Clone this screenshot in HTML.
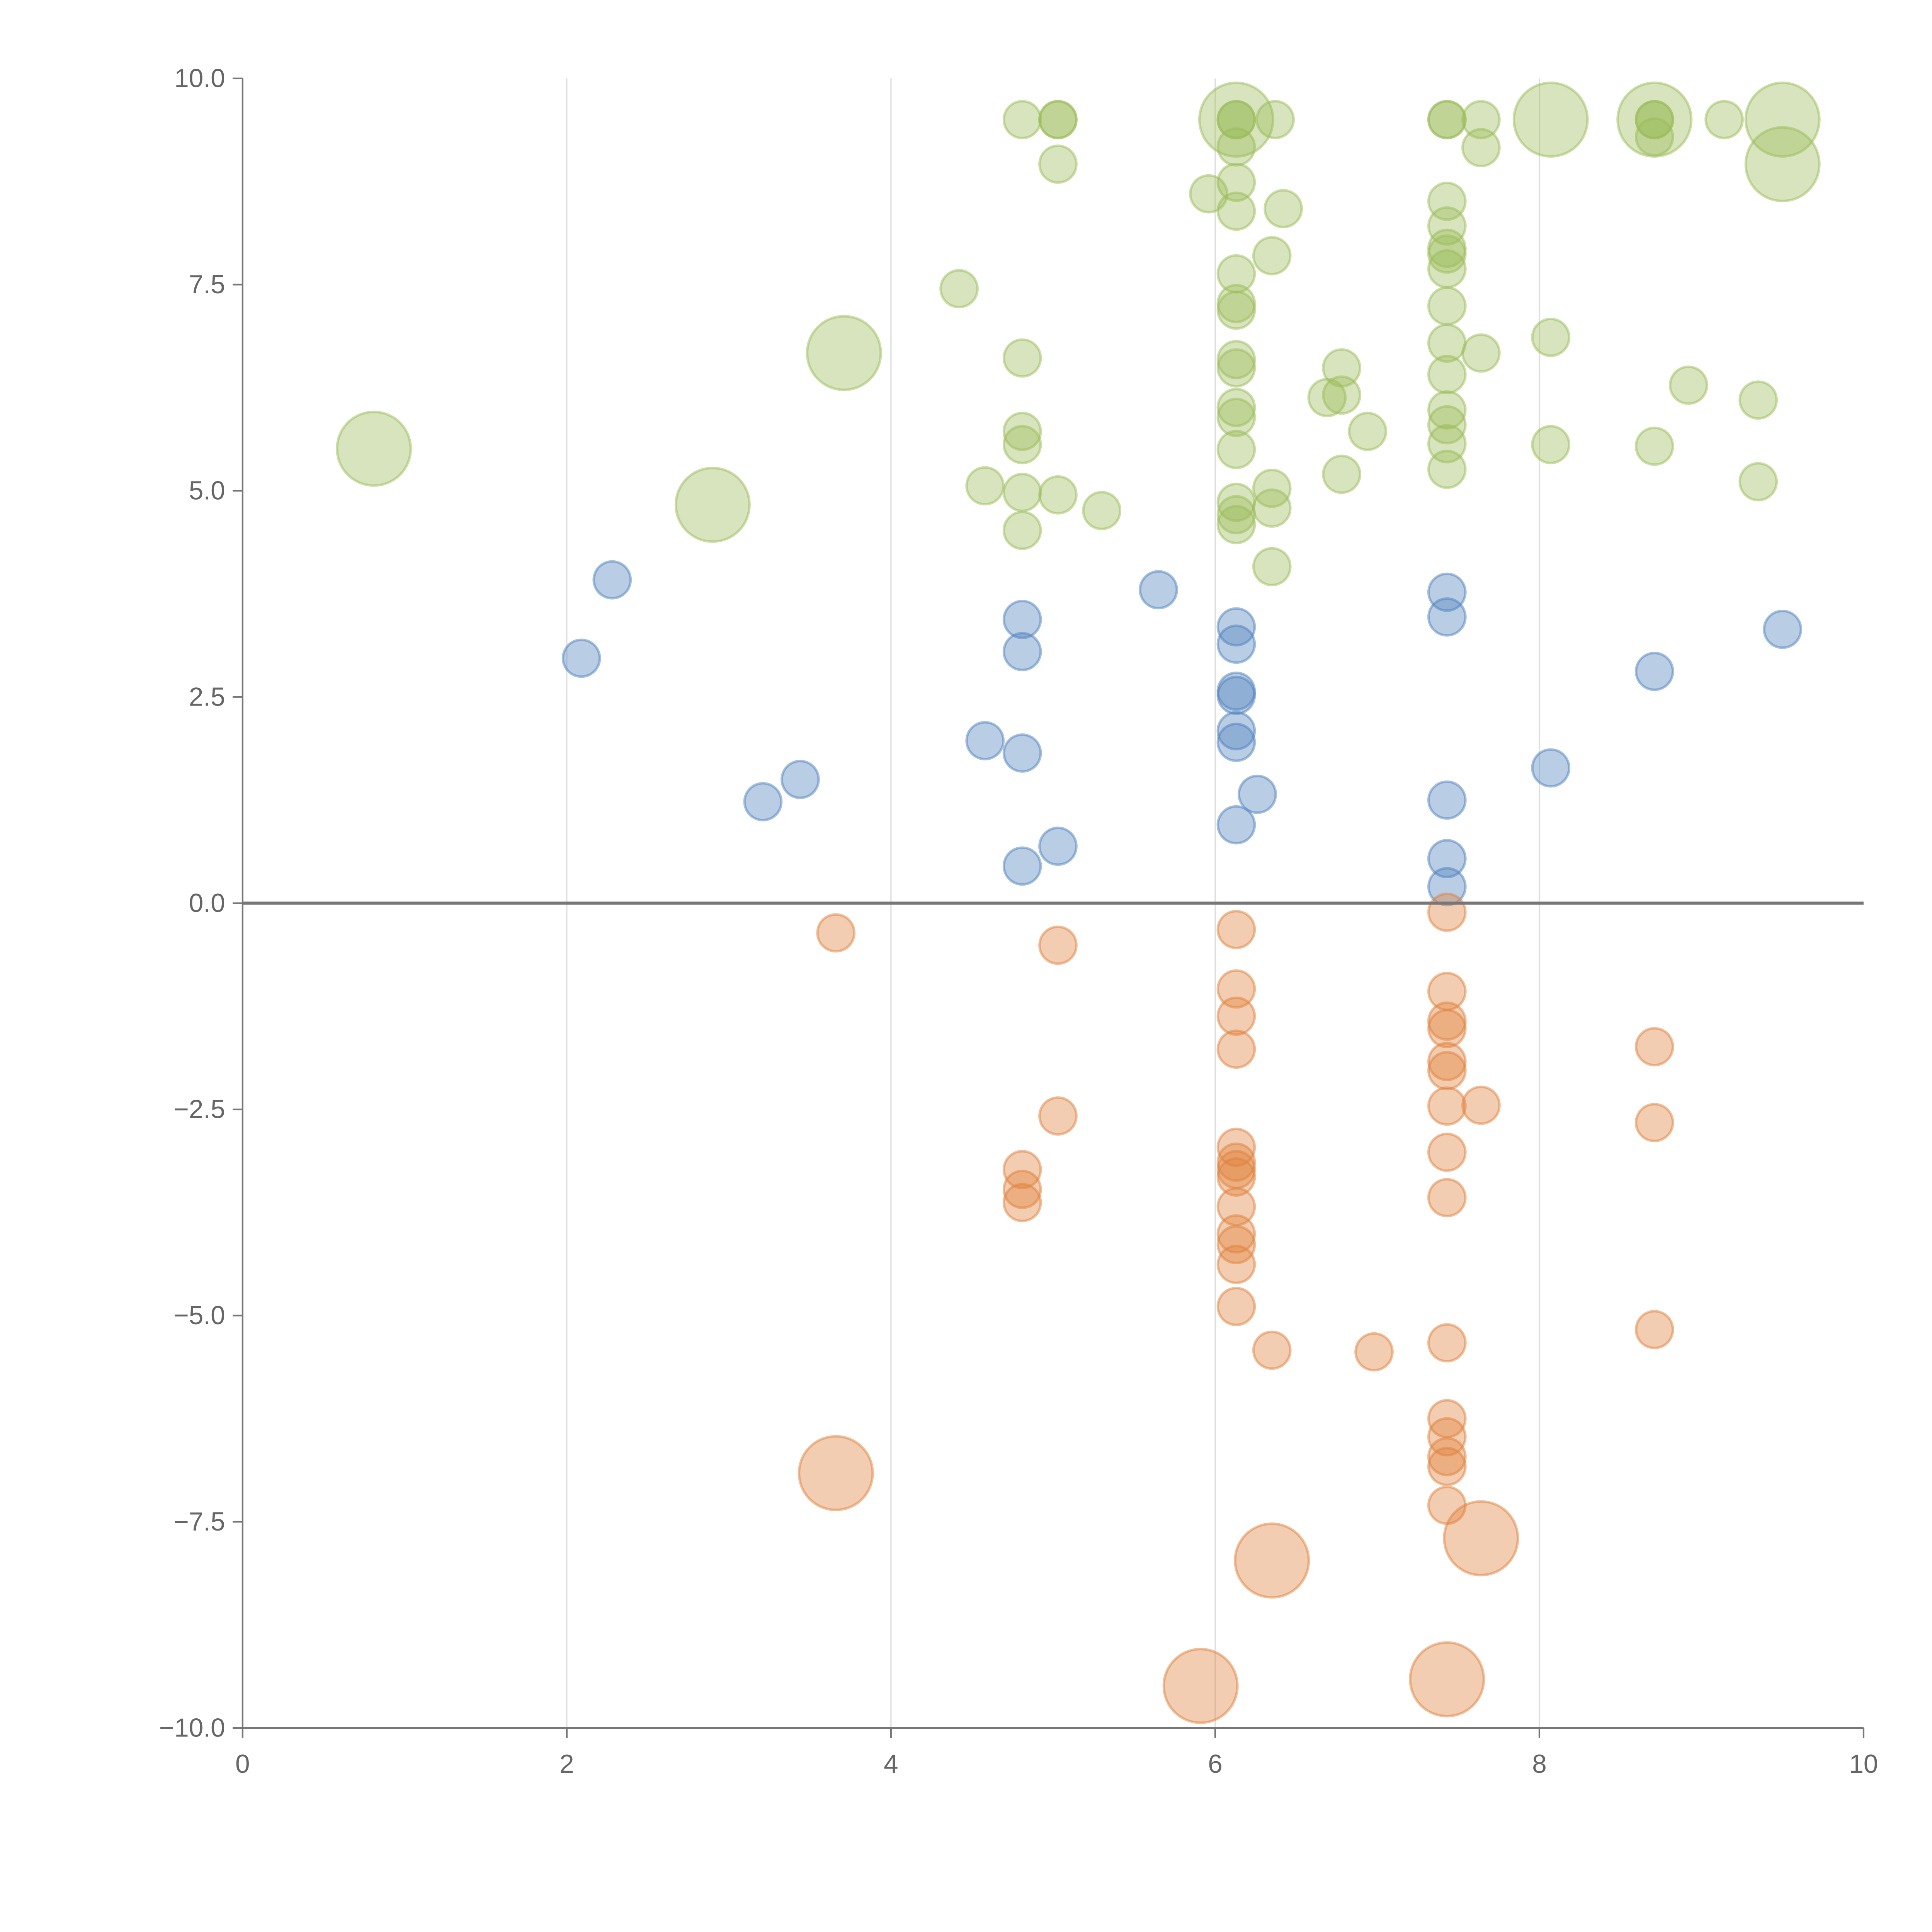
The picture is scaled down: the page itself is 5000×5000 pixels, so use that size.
<!DOCTYPE html>
<html><head><meta charset="utf-8"><style>html,body{margin:0;padding:0;background:#fff}svg{display:block}</style></head>
<body>
<svg id="chart" width="5000" height="5000" viewBox="0 0 1553 1553" xmlns="http://www.w3.org/2000/svg" font-family="Liberation Sans, sans-serif">
<g id="grid"></g>
<g id="marks"></g>
<g id="axes"></g>
</svg>
<script>
const xTicks = [0, 2, 4, 6, 8, 10];
const yTicks = [10, 7.5, 5, 2.5, 0, -2.5, -5, -7.5, -10];
const yTickLabels = ["10.0", "7.5", "5.0", "2.5", "0.0", "\u22122.5", "\u22125.0", "\u22127.5", "\u221210.0"];

const greenX = [4.81,5.03,5.03,6.13,6.37,6.13,6.13,5.96,6.13,6.42,6.35,6.13,6.13,6.13,4.42,4.81,6.13,6.13,6.13,6.13,6.13,6.13,6.13,6.13,6.35,6.35,6.35,4.81,4.81,4.58,4.81,5.03,5.30,4.81,6.69,6.78,6.78,6.94,6.78,7.43,7.64,7.64,7.43,7.43,7.43,7.43,7.43,7.43,7.43,7.64,7.43,7.43,7.43,7.43,7.43,8.07,8.07,8.71,8.71,9.14,8.92,9.35,8.71,9.35,5.03,6.13,7.43,8.71,
0.81,2.90,3.71,6.13,8.07,8.71,9.50,9.50];
const greenY = [9.5,9.5,8.96,9.5,9.5,9.17,8.74,8.60,8.39,8.42,7.85,7.63,7.27,7.19,7.45,6.61,6.59,6.49,6.01,5.89,5.50,4.86,4.71,4.59,5.03,4.79,4.08,5.72,5.56,5.06,4.98,4.95,4.76,4.52,6.13,6.49,6.16,5.72,5.20,9.5,9.5,9.16,8.51,8.21,7.94,7.87,7.69,7.24,6.79,6.67,6.41,5.98,5.80,5.57,5.26,6.86,5.56,9.5,9.29,9.5,6.28,6.10,5.54,5.11,9.5,9.5,9.5,9.5,
5.51,4.83,6.67,9.5,9.5,9.5,9.5,8.96];
const greenSize = [1,1,1,1,1,1,1,1,1,1,1,1,1,1,1,1,1,1,1,1,1,1,1,1,1,1,1,1,1,1,1,1,1,1,1,1,1,1,1,1,1,1,1,1,1,1,1,1,1,1,1,1,1,1,1,1,1,1,1,1,1,1,1,1,1,1,1,1,
4,4,4,4,4,4,4,4];

const blueX = [2.28,2.09,3.21,3.44,4.58,4.81,4.81,4.81,4.81,5.03,5.65,6.13,6.13,6.13,6.13,6.13,6.13,6.26,6.13,7.43,7.43,7.43,7.43,7.43,8.71,8.07,9.50];
const blueY = [3.92,2.97,1.23,1.50,1.97,3.44,3.05,1.82,0.45,0.69,3.80,3.35,3.14,2.57,2.52,2.09,1.95,1.32,0.95,3.77,3.47,1.25,0.54,0.20,2.81,1.64,3.32];
const blueSize = [1,1,1,1,1,1,1,1,1,1,1,1,1,1,1,1,1,1,1,1,1,1,1,1,1,1,1];

const orangeX = [3.66,5.03,5.03,4.81,4.81,4.81,6.13,6.13,6.13,6.13,6.13,6.13,6.13,6.13,6.13,6.13,6.13,6.13,6.13,6.35,6.98,7.43,7.43,7.43,7.43,7.43,7.43,7.43,7.64,7.43,7.43,7.43,7.43,7.43,7.43,7.43,7.43,8.71,8.71,8.71,
3.66,6.35,7.64,5.91,7.43];
const orangeY = [-0.36,-0.51,-2.58,-3.23,-3.47,-3.63,-0.32,-1.04,-1.37,-1.77,-2.96,-3.14,-3.23,-3.32,-3.68,-4.01,-4.14,-4.38,-4.89,-5.42,-5.44,-0.11,-1.07,-1.43,-1.52,-1.92,-2.03,-2.46,-2.45,-3.02,-3.57,-5.33,-6.25,-6.47,-6.71,-6.83,-7.30,-1.74,-2.66,-5.17,
-6.91,-7.97,-7.70,-9.49,-9.41];
const orangeSize = [1,1,1,1,1,1,1,1,1,1,1,1,1,1,1,1,1,1,1,1,1,1,1,1,1,1,1,1,1,1,1,1,1,1,1,1,1,1,1,1,
4,4,4,4,4];

const NS = "http://www.w3.org/2000/svg";
const X0 = 195, X1 = 1498, Y0 = 1389, Y1 = 63;
function sx(v){ return X0 + (v - 0) / 10 * (X1 - X0); }
function sy(v){ return Y0 - (v + 10) / 20 * (Y0 - Y1); }
function rad(s){ return Math.sqrt(s) * 14.8; }
function mk(tag, attrs, parent){ const e = document.createElementNS(NS, tag); for (const k in attrs) e.setAttribute(k, attrs[k]); parent.appendChild(e); return e; }

const grid = document.getElementById('grid');
const marks = document.getElementById('marks');
const axes = document.getElementById('axes');

xTicks.forEach(t => {
  if (t === 0 || t === 10) return;
  const l = mk('line', {x1: sx(t), x2: sx(t), y1: Y1, y2: Y0, stroke: '#dddddd', 'stroke-width': 1}, grid);
  
  
});

function series(xs, ys, ss, color, name){
  const g = mk('g', {}, marks);
  
  
  xs.forEach((x, i) => {
    const c = mk('circle', {cx: sx(x), cy: sy(ys[i]), r: rad(ss[i]), fill: color, 'fill-opacity': 0.4, stroke: color, 'stroke-opacity': 0.5, 'stroke-width': 2}, g);
    
    
  });
}
series(greenX, greenY, greenSize, '#9bbb59', 'green');
series(blueX, blueY, blueSize, '#4f81bd', 'blue');
series(orangeX, orangeY, orangeSize, '#e0823d', 'orange');

const zl = mk('line', {x1: X0, x2: X1, y1: sy(0), y2: sy(0), stroke: '#777', 'stroke-width': 2.5}, axes);


const la = mk('line', {x1: X0, x2: X0, y1: Y1, y2: Y0, stroke: '#777', 'stroke-width': 1.3}, axes);


const ba = mk('line', {x1: X0, x2: X1, y1: Y0, y2: Y0, stroke: '#777', 'stroke-width': 1.3}, axes);



xTicks.forEach(t => {
  mk('line', {x1: sx(t), x2: sx(t), y1: Y0, y2: Y0 + 8, stroke: '#777', 'stroke-width': 1.3}, axes);
  const tx = mk('text', {x: sx(t), y: Y0 + 36, 'text-anchor': 'middle', 'font-size': 21, fill: '#666'}, axes);
  tx.textContent = String(t);
  
  
});
yTicks.forEach((t, i) => {
  mk('line', {x1: X0 - 8, x2: X0, y1: sy(t), y2: sy(t), stroke: '#777', 'stroke-width': 1.3}, axes);
  const tx = mk('text', {x: X0 - 14, y: sy(t) + 7, 'text-anchor': 'end', 'font-size': 21, fill: '#666'}, axes);
  tx.textContent = yTickLabels[i];
  
  
});
</script>
</body></html>
